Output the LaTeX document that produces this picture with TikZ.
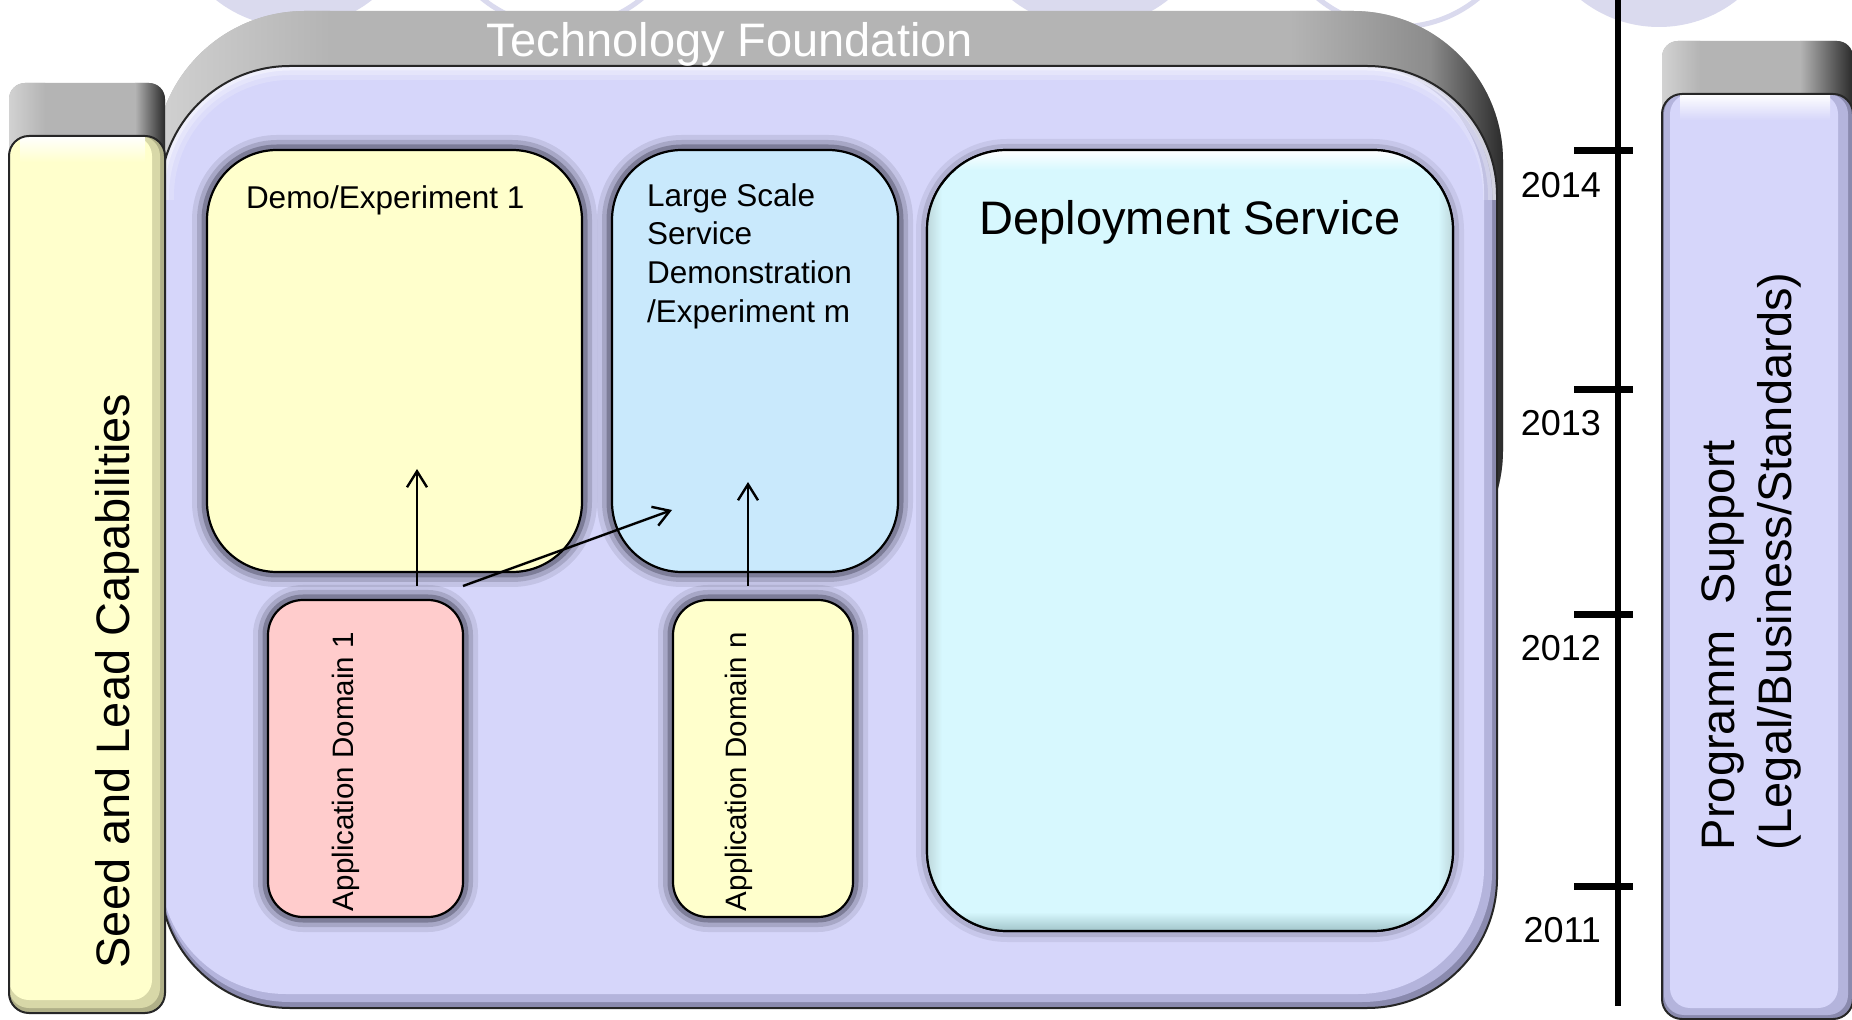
\documentclass[tikz,border=0pt]{standalone}
\usepackage{fontspec}
\setmainfont{Liberation Sans}
\usetikzlibrary{arrows.meta}
\definecolor{grayc}{HTML}{B4B4B4}
\definecolor{graylt}{HTML}{D2D2D2}
\definecolor{graymd}{HTML}{8C8C8C}
\definecolor{graydk}{HTML}{2A2A2A}
\definecolor{circc}{HTML}{DADAEE}
\definecolor{lavc}{HTML}{D6D6FA}
\definecolor{lavmd}{HTML}{B4B4DC}
\definecolor{lavdk}{HTML}{8A8AAE}
\definecolor{yellowc}{HTML}{FFFFCC}
\definecolor{yelmd}{HTML}{D8D8A8}
\definecolor{yeldk}{HTML}{B0B088}
\definecolor{bluec}{HTML}{C9E9FC}
\definecolor{cyanc}{HTML}{D7F8FE}
\definecolor{cyandk}{HTML}{9CBFC4}
\definecolor{pinkc}{HTML}{FFCCCC}
\definecolor{shadowc}{HTML}{3A3A4E}
\begin{document}
\begin{tikzpicture}[x=0.5pt,y=-0.5pt,
  box/.style={draw=black, line width=1.1pt, inner sep=0pt, outer sep=0pt},
  glow/.style={preaction={draw=shadowc, line width=15pt, draw opacity=0.12},
               preaction={draw=shadowc, line width=10pt, draw opacity=0.2},
               preaction={draw=shadowc, line width=5.5pt, draw opacity=0.38}},
  softglow/.style={preaction={draw=shadowc, line width=11pt, draw opacity=0.09},
               preaction={draw=shadowc, line width=6pt, draw opacity=0.16}},
  lbl/.style={inner sep=0pt, outer sep=0pt, text=black},
  big/.style={font=\fontsize{23.5pt}{28.5pt}\selectfont},
  mid/.style={font=\fontsize{15.75pt}{19.3pt}\selectfont},
  small/.style={font=\fontsize{14.75pt}{18pt}\selectfont},
  year/.style={font=\fontsize{18pt}{21pt}\selectfont},
  conn/.style={line width=1.2pt, -{Straight Barb[length=8pt,width=10pt]}},
  tick/.style={line width=3.5pt}
]
\useasboundingbox (0,0) rectangle (1852,1020);
\clip (0,0) rectangle (1852,1020);
\fill[white] (0,0) rectangle (1852,1020);

% top circles (cut off)
\fill[circc] (294,-99) circle[radius=126];
\draw[circc, line width=2.5pt] (562,-99) circle[radius=126];
\fill[circc] (1090,-99) circle[radius=126];
\draw[circc, line width=2.5pt] (1398,-99) circle[radius=126];
\fill[circc] (1659,-99) circle[radius=126];

% gray band of Technology Foundation
\begin{scope}
\clip[rounded corners=75pt] (155,11) rectangle (1503,600);
\fill[grayc] (150,0) rectangle (1510,600);
\shade[left color=graylt, right color=grayc] (150,0) rectangle (330,600);
\shade[left color=grayc, right color=graymd] (1290,0) rectangle (1430,600);
\shade[left color=graymd, right color=graydk] (1430,0) rectangle (1504,600);
\end{scope}

% front face
\begin{scope}
\clip[rounded corners=65pt] (160,66) rectangle (1497,1008);
\fill[lavdk] (150,60) rectangle (1500,1010);
\fill[lavmd, rounded corners=65pt] (160,66) rectangle (1492,1002);
\fill[lavc, rounded corners=63pt] (160,66) rectangle (1484,994);
\draw[white, line width=14pt, draw opacity=0.18, rounded corners=65pt] (160,200) -- (160,66) -- (1497,66) -- (1497,200);
\draw[white, line width=9pt, draw opacity=0.25, rounded corners=65pt] (160,200) -- (160,66) -- (1497,66) -- (1497,200);
\draw[white, line width=4.5pt, draw opacity=0.4, rounded corners=65pt] (160,200) -- (160,66) -- (1497,66) -- (1497,200);
\end{scope}
\draw[black!85, line width=1pt, rounded corners=65pt] (160,66) rectangle (1497,1008);

% Seed bar
\begin{scope}
\clip[rounded corners=8pt] (9,83) rectangle (165,400);
\fill[grayc] (0,80) rectangle (170,400);
\shade[left color=graylt, right color=grayc] (9,80) rectangle (45,400);
\shade[left color=grayc, right color=graydk] (135,80) rectangle (165,400);
\end{scope}
\begin{scope}
\clip[rounded corners=10pt] (9,136) rectangle (165,1013);
\fill[yeldk] (0,130) rectangle (170,1020);
\fill[yelmd, rounded corners=10pt] (9,136) rectangle (160,1008);
\fill[yellowc, rounded corners=10pt] (9,136) rectangle (152,1000);
\shade[top color=white, bottom color=yellowc] (20,136) rectangle (145,162);
\end{scope}
\draw[black!85, line width=1pt, rounded corners=10pt] (9,136) rectangle (165,1013);

% Programm Support bar
\begin{scope}
\clip[rounded corners=8pt] (1662,41) rectangle (1853,400);
\fill[grayc] (1655,35) rectangle (1860,400);
\shade[left color=graylt, right color=grayc] (1662,35) rectangle (1700,400);
\shade[left color=grayc, right color=graydk] (1800,35) rectangle (1853,400);
\end{scope}
\begin{scope}
\clip[rounded corners=10pt] (1662,94) rectangle (1853,1019);
\fill[lavdk] (1655,90) rectangle (1860,1025);
\fill[lavmd, rounded corners=10pt] (1664,94) rectangle (1848,1015);
\fill[lavc, rounded corners=10pt] (1670,94) rectangle (1838,1008);
\shade[top color=white, bottom color=lavc] (1680,94) rectangle (1830,120);
\end{scope}
\draw[black!85, line width=1pt, rounded corners=10pt] (1662,94) rectangle (1853,1019);

% inner boxes
\node[box, softglow, fill=cyanc, rounded corners=40pt, minimum width=263pt, minimum height=390.5pt] (deploy) at (1190,540.5) {};
\begin{scope}
\clip[rounded corners=40pt] (deploy.south west) rectangle (deploy.north east);
\shade[left color=cyandk!70, right color=cyanc] (925,150) rectangle (942,935);
\shade[left color=cyanc, right color=cyandk!70] (1438,150) rectangle (1455,935);
\shade[top color=cyanc, bottom color=cyandk] (925,912) rectangle (1455,933);
\shade[top color=white, bottom color=cyanc] (925,150) rectangle (1455,170);
\end{scope}
\draw[black, line width=1.1pt, rounded corners=40pt] (deploy.south west) rectangle (deploy.north east);

\node[box, glow, fill=yellowc, rounded corners=35pt, minimum width=187.5pt, minimum height=211pt] (demo) at (394.5,361) {};
\node[box, glow, fill=bluec, rounded corners=35pt, minimum width=143pt, minimum height=211pt] (large) at (755,361) {};
\node[box, glow, fill=pinkc, rounded corners=17.5pt, minimum width=97.5pt, minimum height=158.5pt] (ad1) at (365.5,758.5) {};
\node[box, glow, fill=yellowc, rounded corners=17.5pt, minimum width=90pt, minimum height=158.5pt] (adn) at (763,758.5) {};

% texts
\node[lbl, big, text=white] (techtxt) at (730,44) {Technology Foundation};
\node[lbl, big, rotate=90] (seedtxt) at (117,681) {Seed and Lead Capabilities};
\node[lbl, big, rotate=90, anchor=west, align=left] (progtxt) at (1751,850) {Programm\ \ Support\\(Legal/Business/Standards)};
\node[lbl, mid, anchor=west] (demotxt) at (246,200) {Demo/Experiment 1};
\node[lbl, mid, anchor=west, align=left] (largetxt) at (647,256) {Large Scale\\Service\\Demonstration\\/Experiment m};
\node[lbl, big] (deploytxt) at (1190,222) {Deployment Service};
\node[lbl, small, rotate=90, anchor=west] (ad1txt) at (346,911) {Application Domain 1};
\node[lbl, small, rotate=90, anchor=west] (adntxt) at (739,911) {Application Domain n};

% timeline
\coordinate (tltop) at (1618,0);
\coordinate (tlbot) at (1618,1006);
\draw[line width=3pt] (tltop) -- (tlbot);
\coordinate (t14a) at (1574,151); \coordinate (t14b) at (1633,151);
\coordinate (t13a) at (1574,390); \coordinate (t13b) at (1633,390);
\coordinate (t12a) at (1574,615); \coordinate (t12b) at (1633,615);
\coordinate (t11a) at (1574,886); \coordinate (t11b) at (1633,886);
\draw[tick] (t14a) -- (t14b);
\draw[tick] (t13a) -- (t13b);
\draw[tick] (t12a) -- (t12b);
\draw[tick] (t11a) -- (t11b);
\node[lbl, year, anchor=east] (y14) at (1601,185) {2014};
\node[lbl, year, anchor=east] (y13) at (1601,423) {2013};
\node[lbl, year, anchor=east] (y12) at (1601,648) {2012};
\node[lbl, year, anchor=east] (y11) at (1601,930) {2011};

% arrows
\coordinate (a1s) at (417,586); \coordinate (a1e) at (417,469);
\coordinate (a2s) at (463,586); \coordinate (a2e) at (672,510);
\coordinate (a3s) at (748,586); \coordinate (a3e) at (748,482);
\draw[conn] (a1s) -- (a1e);
\draw[conn] (a2s) -- (a2e);
\draw[conn] (a3s) -- (a3e);
\end{tikzpicture}
\end{document}
